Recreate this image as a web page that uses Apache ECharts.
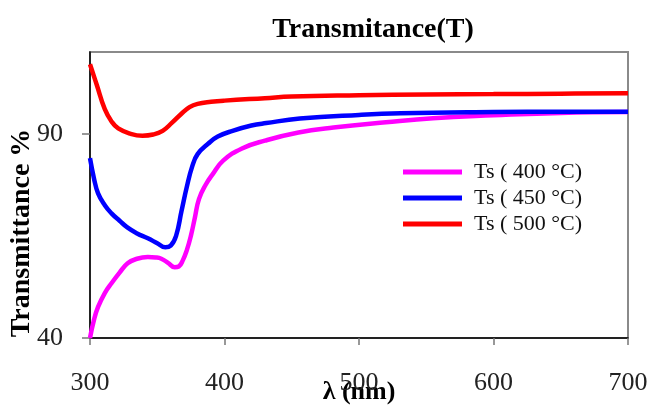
<!DOCTYPE html>
<html>
<head>
<meta charset="utf-8">
<script src="https://cdn.jsdelivr.net/npm/echarts@6/dist/echarts.min.js"></script>
<style>html,body{margin:0;padding:0;background:#fff}#c{width:650px;height:409px}</style>
</head>
<body>
<div id="c"></div>
<script>
const seriesNames = ['Ts ( 400 °C)', 'Ts ( 450 °C)', 'Ts ( 500 °C)'];
const xTicks = [300, 400, 500, 600, 700];
const yTicks = [40, 90];

const wl400 = [300, 303, 306, 311, 316, 322, 328, 335, 343, 349, 353, 358, 363, 366, 369, 372, 375, 378, 381, 386, 391, 399, 413, 430, 455, 481, 520, 555, 600, 650, 700];
const t400  = [40, 44.5, 47.6, 51, 53.4, 56, 58.3, 59.4, 59.8, 59.7, 59.4, 58.4, 57.3, 57.5, 59, 61.5, 65, 69.5, 74, 77.5, 80, 83.4, 86.4, 88.3, 90.3, 91.5, 92.8, 93.8, 94.5, 95.1, 95.3];

const wl450 = [300, 303, 306, 311, 316, 322, 328, 335, 343, 350, 356, 360, 364, 368, 372, 376, 380, 388, 395, 406, 420, 431, 456, 500, 531, 600, 650, 700];
const t450  = [84, 79, 75.4, 72.5, 70.5, 68.7, 67, 65.6, 64.4, 63.2, 62.2, 62.6, 65, 71, 77, 82, 85, 87.6, 89.3, 90.7, 92, 92.6, 93.7, 94.6, 95, 95.3, 95.4, 95.4];

const wl500 = [300, 305, 311, 316, 321, 330, 339, 347, 354, 361, 368, 374, 380, 390, 400, 430, 450, 500, 550, 600, 650, 700];
const t500  = [107, 102, 96, 93, 91.3, 90, 89.5, 89.8, 90.7, 92.7, 94.9, 96.5, 97.3, 97.8, 98.1, 98.7, 99.1, 99.4, 99.6, 99.7, 99.8, 99.9];

const colors = ['#ff00ff', '#0000ff', '#ff0000'];
const zip = (a, b) => a.map((v, i) => [v, b[i]]);
const dataSets = [zip(wl400, t400), zip(wl450, t450), zip(wl500, t500)];

const serif = 'Liberation Serif, Times New Roman, serif';
const chart = echarts.init(document.getElementById('c'));
chart.setOption({
  animation: false,
  title: {
    text: 'Transmitance(T)',
    left: 368, top: 11, textAlign: 'center',
    textStyle: { fontFamily: serif, fontWeight: 'bold', fontSize: 28, color: '#000' }
  },
  legend: {
    left: 398, top: 156, orient: 'vertical',
    icon: 'rect', itemWidth: 59, itemHeight: 5, itemGap: 4,
    data: seriesNames,
    textStyle: { fontFamily: serif, fontSize: 22, color: '#111', lineHeight: 22, padding: [0, 0, 0, 7] }
  },
  grid: { left: 90, right: 22, top: 52, bottom: 71, outerBoundsMode: 'none', containLabel: false, show: true, borderColor: '#8a8a8a', borderWidth: 2, backgroundColor: 'transparent' },
  xAxis: {
    type: 'value', min: 300, max: 700, interval: 100,
    name: 'λ (nm)', nameLocation: 'middle', nameGap: 41, nameMoveOverlap: false,
    nameTextStyle: { fontFamily: serif, fontWeight: 'bold', fontSize: 26, color: '#000' },
    axisLine: { lineStyle: { color: '#000', width: 1.5 } },
    axisTick: { show: true, length: 7, lineStyle: { color: '#777', width: 1.5 }, customValues: xTicks },
    axisLabel: { margin: 32, fontFamily: serif, fontSize: 26, color: '#222', customValues: xTicks },
    splitLine: { show: false }
  },
  yAxis: {
    type: 'value', min: 40, max: 110, interval: 50,
    name: 'Transmittance %', nameLocation: 'middle', nameRotate: 90, nameGap: 54, nameMoveOverlap: false,
    nameTextStyle: { fontFamily: serif, fontWeight: 'bold', fontSize: 28, color: '#000', padding: [0, 76, 0, 0] },
    axisLine: { show: true, lineStyle: { color: '#000', width: 1.5 } },
    axisTick: { show: true, length: 8, lineStyle: { color: '#777', width: 1.5 }, customValues: yTicks },
    axisLabel: { margin: 27, fontFamily: serif, fontSize: 26, color: '#222', customValues: yTicks },
    splitLine: { show: false }
  },
  series: seriesNames.map((n, i) => ({
    name: n, type: 'line', data: dataSets[i], smooth: 0.45, showSymbol: false,
    lineStyle: { color: colors[i], width: 4.5 }, itemStyle: { color: colors[i] }
  }))
});
</script>
</body>
</html>
